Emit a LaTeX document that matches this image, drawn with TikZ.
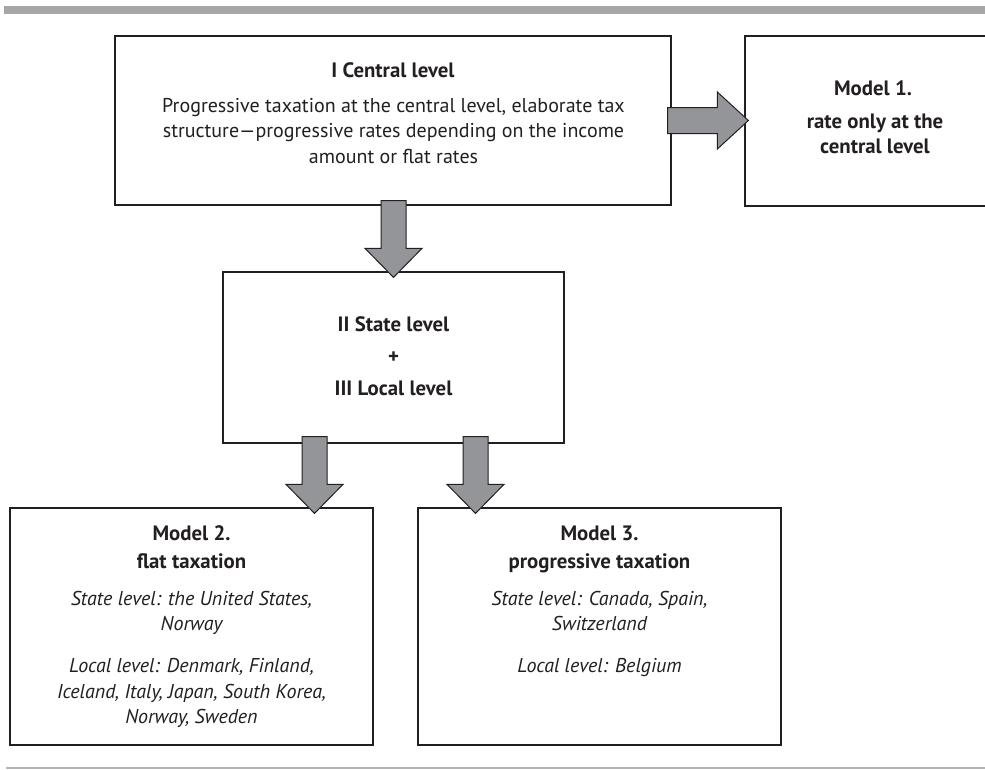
\documentclass[tikz,border=0pt]{standalone}
\usepackage{fontspec}
\setmainfont{PT Sans}
\usetikzlibrary{calc}
\definecolor{ink}{HTML}{231F20}
\definecolor{arrowgray}{HTML}{939598}
\definecolor{rulegray}{HTML}{A7A7A7}
\begin{document}
\begin{tikzpicture}[x=1pt,y=-1pt,
  box/.style={draw=ink, line width=1.3pt, rectangle, inner sep=0pt, fill=white},
  title/.style={anchor=base, inner sep=0pt, font=\fontsize{20.8}{24}\selectfont\bfseries, text=ink},
  body/.style={anchor=base, inner sep=0pt, font=\fontsize{20}{24}\selectfont, text=ink},
  note/.style={anchor=base, inner sep=0pt, font=\fontsize{20}{24}\selectfont\itshape, text=ink},
  blockarr/.style={draw=ink, line width=1pt, fill=arrowgray, line join=miter},
  downarrow/.style={blockarr, to path={
    let \p1=(\tikztostart), \p2=(\tikztotarget) in
    (\x1-12.5pt,\y1) -- (\x1-12.5pt,\y2+29pt) -- (\x1-28.5pt,\y2+29pt) -- (\x1,\y2)
    -- (\x1+28.5pt,\y2+29pt) -- (\x1+12.5pt,\y2+29pt) -- (\x1+12.5pt,\y1) -- cycle}},
  rightarrow/.style={blockarr, to path={
    let \p1=(\tikztostart), \p2=(\tikztotarget) in
    (\x1,\y1+13pt) -- (\x2-31pt,\y1+13pt) -- (\x2-31pt,\y1+28.5pt) -- (\x2,\y1)
    -- (\x2-31pt,\y1-28.5pt) -- (\x2-31pt,\y1-13pt) -- (\x1,\y1-13pt) -- cycle}},
]
\useasboundingbox (0,0) rectangle (985,769);
\clip (0,0) rectangle (985,769);

% page rules
\fill[rulegray] (4,6) rectangle (985,14);
\fill[rulegray!85] (6,767) rectangle (985,769);

% boxes
\node[box, minimum width=556pt, minimum height=169pt] (c1) at (393,120.5) {};
\node[box, minimum width=260pt, minimum height=170pt] (m1) at (875,121) {};
\node[box, minimum width=341pt, minimum height=171pt] (s) at (393.5,357.5) {};
\node[box, minimum width=363pt, minimum height=237pt] (m2) at (191.5,626.5) {};
\node[box, minimum width=363pt, minimum height=237pt] (m3) at (599.5,626.5) {};

% central level
\node[title] (c1t) at (393,77) {I Central level};
\node[body] (c1a) at (393.5,112) {Progressive taxation at the central level, elaborate tax};
\node[body] (c1b) at (393.5,137) {structure---progressive rates depending on the income};
\node[body] (c1c) at (393.5,163) {amount or flat rates};

% model 1
\node[title] (m1t) at (873,95) {Model 1.};
\node[title] (m1a) at (875,128) {rate only at the};
\node[title] (m1b) at (875,153) {central level};

% state + local level
\node[title] (st) at (393.5,331) {II State level};
\node[title] (sp) at (393.5,363) {+};
\node[title] (sl) at (393.5,395) {III Local level};

% model 2
\node[title] (m2t) at (191.5,540) {Model 2.};
\node[title] (m2s) at (191.5,568) {flat taxation};
\node[note] (m2a) at (191.5,605) {State level: the United States,};
\node[note] (m2b) at (191.5,630) {Norway};
\node[note] (m2c) at (191.5,672) {Local level: Denmark, Finland,};
\node[note] (m2d) at (191.5,698) {Iceland, Italy, Japan, South Korea,};
\node[note] (m2e) at (191.5,723) {Norway, Sweden};

% model 3
\node[title] (m3t) at (599.5,540) {Model 3.};
\node[title] (m3s) at (599.5,568) {progressive taxation};
\node[note] (m3a) at (599.5,605) {State level: Canada, Spain,};
\node[note] (m3b) at (599.5,630) {Switzerland};
\node[note] (m3c) at (599.5,672) {Local level: Belgium};

% arrow end points
\coordinate (r1s) at ([xshift=-4pt]c1.east);
\coordinate (r1e) at ([xshift=4pt]m1.west);
\coordinate (d1s) at ([xshift=0.5pt,yshift=5pt]c1.south);
\coordinate (d1e) at ([yshift=-6pt]s.north);
\coordinate (d2s) at ([xshift=-79pt,yshift=7pt]s.south);
\coordinate (d2e) at ([yshift=-6pt]m2.north);
\coordinate (d3s) at ([xshift=82pt,yshift=7pt]s.south);
\coordinate (d3e) at ([yshift=-6pt]m3.north);

% block arrows
\draw[rightarrow] (r1s) to (r1e);
\draw[downarrow] (d1s) to (d1e);
\draw[downarrow] (d2s) to (d2e);
\draw[downarrow] (d3s) to (d3e);
\end{tikzpicture}
\end{document}
